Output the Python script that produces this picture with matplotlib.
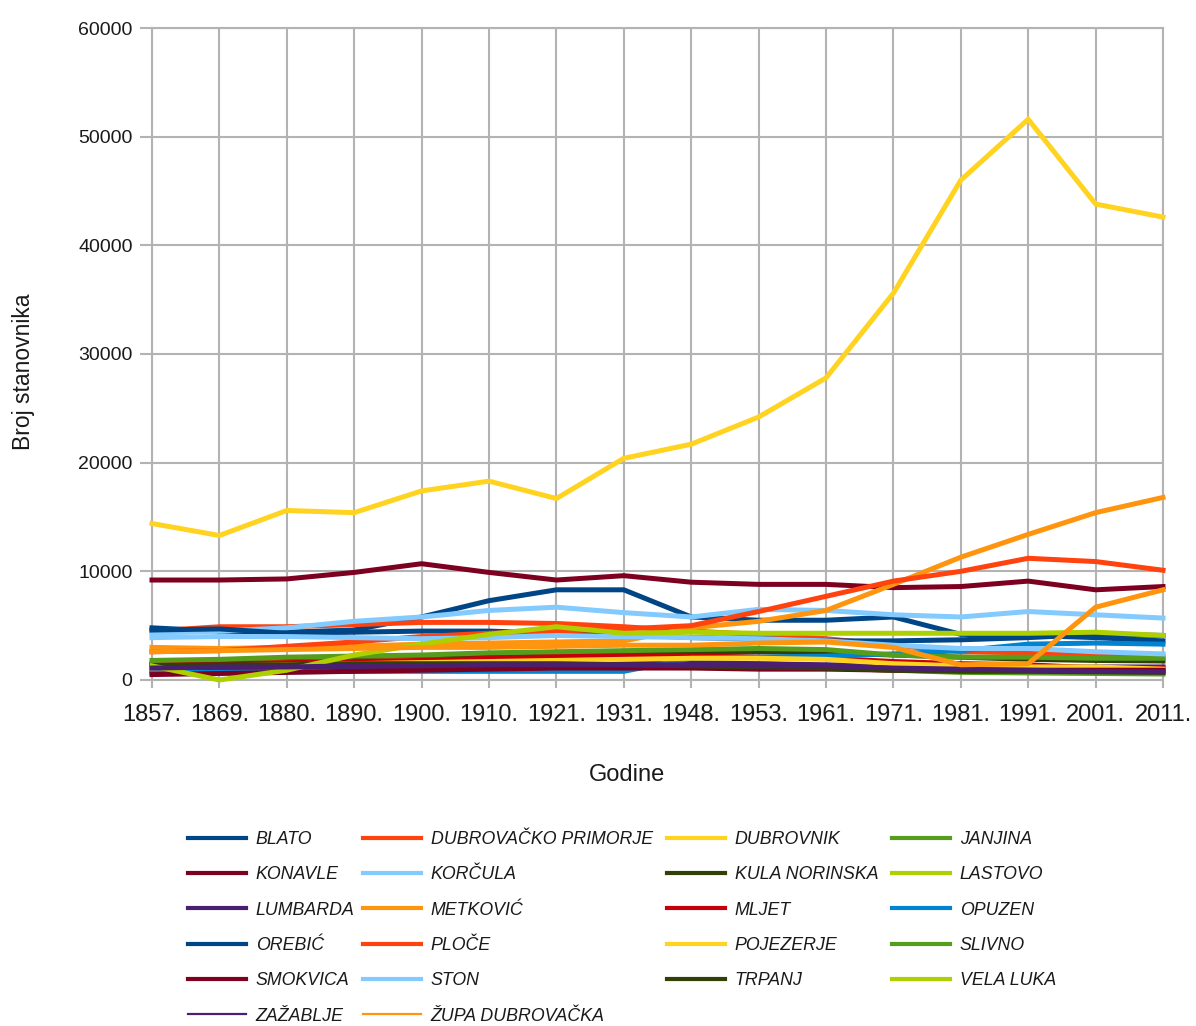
import matplotlib
matplotlib.use("Agg")
import matplotlib.pyplot as plt
from matplotlib.font_manager import FontProperties

plt.rcParams["font.family"] = ["Liberation Sans", "DejaVu Sans"]

years = ["1857.", "1869.", "1880.", "1890.", "1900.", "1910.", "1921.", "1931.",
         "1948.", "1953.", "1961.", "1971.", "1981.", "1991.", "2001.", "2011."]

blato = [4800, 4500, 4400, 4600, 5800, 7300, 8300, 8300, 5800, 5500, 5500, 5800, 4200, 4100, 3900, 3600]
dubrovacko_primorje = [4500, 4900, 4900, 5100, 5300, 5300, 5200, 4900, 4500, 4200, 3800, 3200, 2600, 2500, 2200, 2200]
dubrovnik = [14400, 13300, 15600, 15400, 17400, 18300, 16700, 20400, 21700, 24200, 27800, 35600, 46000, 51600, 43800, 42600]
janjina = [1300, 1400, 1500, 1600, 1600, 1600, 1500, 1400, 1300, 1200, 1100, 900, 700, 650, 600, 550]
konavle = [9200, 9200, 9300, 9900, 10700, 9900, 9200, 9600, 9000, 8800, 8800, 8500, 8600, 9100, 8300, 8600]
korcula = [4300, 4500, 4800, 5400, 5800, 6400, 6700, 6200, 5800, 6500, 6400, 6000, 5800, 6300, 6000, 5700]
kula_norinska = [1500, 1600, 1800, 1900, 2000, 2100, 2200, 2300, 2500, 2600, 2500, 2300, 2100, 1900, 1800, 1750]
lastovo = [1400, 1500, 1600, 1700, 1800, 1900, 1800, 1700, 1600, 1500, 1300, 1200, 1200, 1200, 850, 800]
lumbarda = [900, 950, 1000, 1100, 1200, 1300, 1400, 1500, 1600, 1500, 1400, 1300, 1200, 1200, 1200, 1200]
metkovic = [3000, 2900, 3000, 3100, 3300, 3400, 3500, 3600, 4800, 5400, 6400, 8800, 11300, 13400, 15400, 16800]
mljet = [1400, 1500, 1600, 1700, 1800, 2000, 2200, 2300, 2200, 2100, 2000, 1700, 1500, 1400, 1100, 1100]
opuzen = [700, 700, 750, 800, 800, 800, 800, 800, 2000, 2100, 2200, 2400, 2700, 3300, 3400, 3300]
orebic = [4600, 4700, 4300, 4400, 4500, 4500, 4300, 4200, 3900, 3800, 3600, 3600, 3700, 3900, 4200, 4100]
ploce = [2600, 2700, 3100, 3500, 4000, 4300, 4500, 4700, 5000, 6300, 7700, 9100, 10000, 11200, 10900, 10100]
pojezerje = [1100, 1300, 1400, 1500, 1600, 1700, 1800, 1900, 2000, 2000, 1900, 1500, 1300, 1200, 1200, 1000]
slivno = [1800, 1900, 2100, 2200, 2300, 2500, 2600, 2700, 2800, 2900, 2800, 2300, 2100, 2100, 2000, 2000]
smokvica = [500, 600, 700, 800, 900, 1000, 1100, 1100, 1100, 1000, 1000, 900, 900, 900, 900, 900]
ston = [3900, 4000, 4000, 3900, 3800, 3900, 4100, 4000, 3900, 3800, 3600, 3200, 2900, 2900, 2600, 2400]
trpanj = [1300, 1400, 1400, 1500, 1500, 1500, 1500, 1400, 1300, 1200, 1100, 900, 800, 800, 750, 700]
vela_luka = [1300, 0, 900, 2300, 3300, 4200, 4900, 4300, 4400, 4300, 4300, 4300, 4300, 4300, 4400, 4100]
zazablje = [1100, 1200, 1200, 1300, 1300, 1400, 1400, 1400, 1400, 1300, 1300, 1100, 1000, 900, 800, 750]
zupa_dubrovacka = [2600, 2700, 2800, 2900, 3000, 3000, 3100, 3200, 3200, 3400, 3500, 3000, 1400, 1500, 6700, 8300]

names = ["BLATO", "DUBROVAČKO PRIMORJE", "DUBROVNIK", "JANJINA", "KONAVLE", "KORČULA",
         "KULA NORINSKA", "LASTOVO", "LUMBARDA", "METKOVIĆ", "MLJET", "OPUZEN", "OREBIĆ",
         "PLOČE", "POJEZERJE", "SLIVNO", "SMOKVICA", "STON", "TRPANJ", "VELA LUKA",
         "ZAŽABLJE", "ŽUPA DUBROVAČKA"]
series = [blato, dubrovacko_primorje, dubrovnik, janjina, konavle, korcula, kula_norinska,
          lastovo, lumbarda, metkovic, mljet, opuzen, orebic, ploce, pojezerje, slivno,
          smokvica, ston, trpanj, vela_luka, zazablje, zupa_dubrovacka]
palette = ["#004586", "#ff420e", "#ffd320", "#579d1c", "#7e0021", "#83caff",
           "#314004", "#aecf00", "#4b1f6f", "#ff950e", "#c5000b", "#0084d1"]

W, H = 1196, 1026
fig = plt.figure(figsize=(W / 100, H / 100), dpi=100)
ax = fig.add_axes([152 / W, (H - 680) / H, 1011 / W, 652 / H])

x = list(range(len(years)))
lines = []
for i, (nm, vals) in enumerate(zip(names, series)):
    ln, = ax.plot(x, vals, color=palette[i % len(palette)], lw=3.6,
                  solid_joinstyle="miter", clip_on=False, zorder=3 + i * 0.01, label=nm)
    lines.append(ln)

grid_c = "#b3b3b3"
ax.set_xlim(0, len(years) - 1)
ax.set_ylim(0, 60000)
ax.set_yticks(range(0, 60001, 10000))
ax.set_yticklabels([str(v) for v in range(0, 60001, 10000)])
ax.set_xticks(x)
ax.set_xticklabels(years)
ax.grid(True, color=grid_c, lw=1.5, zorder=0)
ax.set_axisbelow(True)
for s in ax.spines.values():
    s.set_color(grid_c)
    s.set_linewidth(1.5)
ax.tick_params(axis="both", colors=grid_c, width=1.5, length=9, labelcolor="#1a1a1a")
ax.tick_params(axis="y", labelsize=14, pad=5)
ax.tick_params(axis="x", labelsize=17, pad=11, length=6)

ax.set_ylabel("Broj stanovnika", fontsize=16.5, color="#1a1a1a")
ax.yaxis.set_label_coords((35 - 152) / 1011, (680 - 372) / 652)
fig.text(627 / W, 1 - 775 / H, "Godine", fontsize=17, color="#1a1a1a",
         ha="center", va="center")

# legend: 4 columns, row-major order
prop = FontProperties(family=["Liberation Sans", "DejaVu Sans"], style="italic", size=12.8)
col_x = [188, 363, 667, 892]
for c in range(4):
    idx = list(range(c, len(names), 4))
    leg = fig.legend([lines[i] for i in idx], [names[i] for i in idx],
                     loc="upper left", bbox_to_anchor=(col_x[c] / W, 1 - 831 / H),
                     frameon=False, borderpad=0, borderaxespad=0,
                     handlelength=3.25, handletextpad=0.55, labelspacing=1.03,
                     prop=prop)
    for t in leg.get_texts():
        t.set_color("#1a1a1a")
    for i, hl in zip(idx, leg.get_lines()):
        hl.set_linewidth(1.6 if i >= 20 else 3.0)

fig.savefig("out.png", dpi=100)
